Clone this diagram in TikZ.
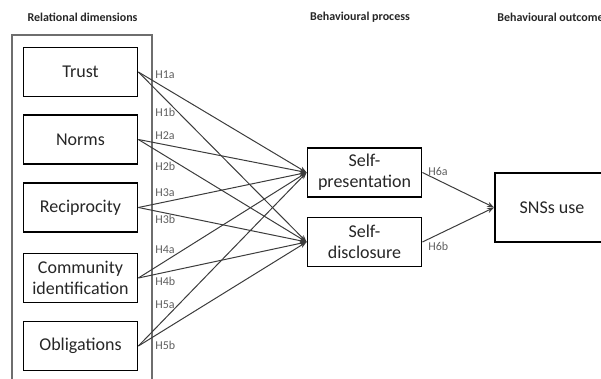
\documentclass[tikz,border=0pt]{standalone}
\usepackage{fontspec}
\setmainfont{Carlito}
\usetikzlibrary{arrows.meta}
\definecolor{LineGray}{RGB}{60, 60, 60}
\definecolor{LabelGray}{RGB}{95, 95, 95}
\definecolor{FrameGray}{RGB}{110, 110, 110}

\begin{document}
\begin{tikzpicture}[x=0.5pt, y=-0.5pt,
    dimbox/.style={draw=black, line width=0.9pt, minimum width=57pt, minimum height=24.5pt,
      align=center, inner sep=1pt, text=black!85, font=\fontsize{9}{10.4}\selectfont},
    headtext/.style={font=\fontsize{6}{7}\selectfont\bfseries, text=black!85, inner sep=0pt},
    hyplabel/.style={font=\fontsize{6}{7}\selectfont, text=LabelGray, anchor=west, inner sep=0pt},
    link/.style={draw=LineGray, line width=0.5pt, -{Stealth[length=3.5pt, width=2.6pt]}}]
    \useasboundingbox (0,0) rectangle (601,379);
    \clip (0,0) rectangle (601,379);

    % Headings
    \node[headtext] (hrel) at (82.5, 17) {Relational dimensions};
    \node[headtext] (hproc) at (360, 17) {Behavioural process};
    \node[headtext, anchor=west] (hout) at (497, 17) {Behavioural outcome};

    % Frame round the relational dimensions
    \draw[FrameGray, line width=1pt] (12, 35) rectangle (152, 395);

    % Relational dimensions
    \node[dimbox] (trust) at (80.5, 72) {Trust};
    \node[dimbox] (norms) at (80.5, 139.5) {Norms};
    \node[dimbox] (recip) at (80.5, 207.5) {Reciprocity};
    \node[dimbox] (commid) at (80.5, 278) {Community\\identification};
    \node[dimbox] (oblig) at (80.5, 346) {Obligations};

    % Behavioural process and outcome
    \node[dimbox] (selfpres) at (364.5, 172.5) {Self-\\presentation};
    \node[dimbox] (selfdisc) at (364.5, 242) {Self-\\disclosure};
    \node[dimbox, minimum height=34.5pt] (snsuse) at (552, 207.5) {SNSs use};

    % H1 to H5
    \foreach \src in {trust, norms, recip, commid, oblig} {
      \draw[link] (\src.east) -- (selfpres.west);
      \draw[link] (\src.east) -- (selfdisc.west);
    }
    \foreach \lab/\y in {H1a/75, H1b/112, H2a/136, H2b/166, H3a/193,
                        H3b/219, H4a/250, H4b/281, H5a/305, H5b/345} {
      \node[hyplabel] (lab\lab) at (155, \y) {\lab};
    }

    % H6
    \draw[link] (selfpres.east) -- (snsuse.west);
    \draw[link] (selfdisc.east) -- (snsuse.west);
    \node[hyplabel] (labH6a) at (428, 171) {H6a};
    \node[hyplabel] (labH6b) at (428, 246) {H6b};
\end{tikzpicture}
\end{document}
